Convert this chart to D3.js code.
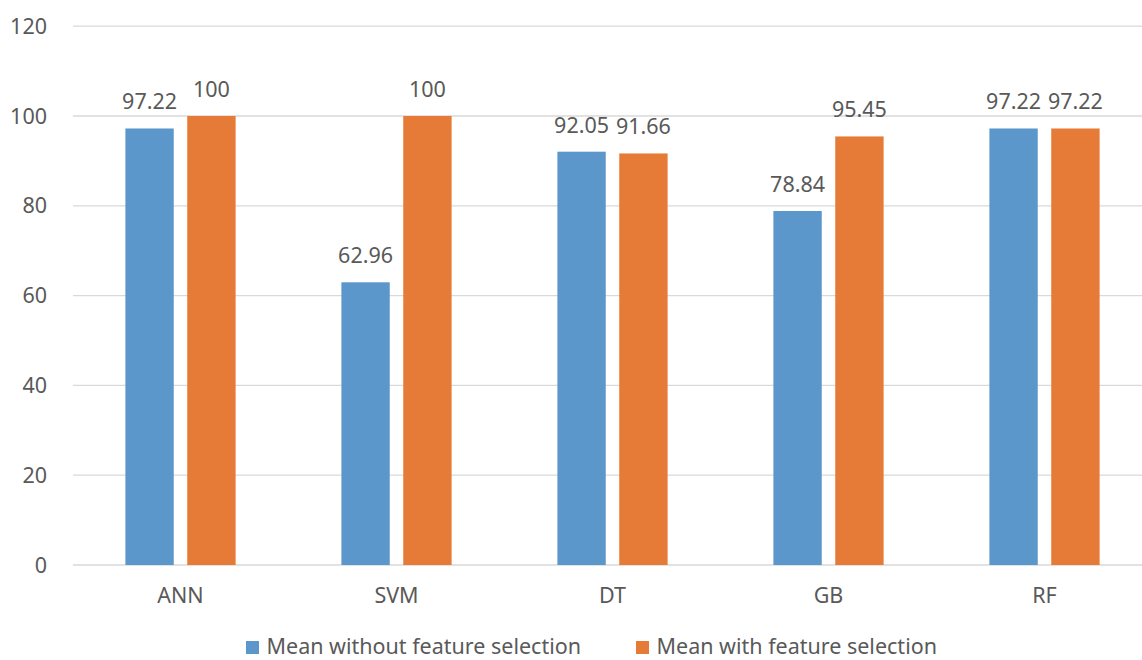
<!DOCTYPE html>
<html>
<head>
<meta charset="utf-8">
<script src="https://cdn.jsdelivr.net/npm/d3@7"></script>
<style>
  html, body { margin: 0; padding: 0; background: #fff; }
  svg { display: block; }
  text { font-family: "Noto Sans", "Open Sans", sans-serif; fill: #595959; }
</style>
</head>
<body>
<svg id="chart" width="1142" height="660"></svg>
<script>
// Model accuracy means, with and without feature selection
const categories = ["ANN", "SVM", "DT", "GB", "RF"];
const seriesNames = ["Mean without feature selection", "Mean with feature selection"];
const withoutFS = [97.22, 62.96, 92.05, 78.84, 97.22];
const withFS = [100, 100, 91.66, 95.45, 97.22];
const yTicks = [0, 20, 40, 60, 80, 100, 120];
const colors = ["#5b97cb", "#e67b37"];

const W = 1142, H = 660;
const svg = d3.select("#chart");
const fontSize = 21.5;

const x0 = d3.scaleBand().domain(categories).range([72.5, 1152.5]).paddingInner(0).paddingOuter(0);
const x1 = d3.scaleBand().domain(seriesNames).range([0, x0.bandwidth()])
  .paddingInner(0.218).paddingOuter(0.855);
const y = d3.scaleLinear().domain([0, 120]).range([565, 26.2]);

// horizontal gridlines
svg.append("g").selectAll("line").data(yTicks).join("line")
  .attr("x1", 73).attr("x2", W)
  .attr("y1", d => y(d)).attr("y2", d => y(d))
  .attr("stroke", "#d9d9d9").attr("stroke-width", 1.3);

// y-axis labels
svg.append("g").selectAll("text").data(yTicks).join("text")
  .attr("x", 47).attr("y", d => y(d) + 7.5)
  .attr("text-anchor", "end")
  .style("font-size", fontSize + "px")
  .text(d => d);

const rows = categories.map((c, i) => ({
  cat: c,
  vals: [
    { s: seriesNames[0], v: withoutFS[i], k: 0 },
    { s: seriesNames[1], v: withFS[i], k: 1 }
  ]
}));

const groups = svg.append("g").selectAll("g").data(rows).join("g")
  .attr("transform", d => `translate(${x0(d.cat)},0)`);

groups.selectAll("rect").data(d => d.vals).join("rect")
  .attr("x", d => x1(d.s))
  .attr("width", x1.bandwidth())
  .attr("y", d => y(d.v))
  .attr("height", d => y(0) - y(d.v))
  .attr("fill", d => colors[d.k]);

groups.selectAll("text.val").data(d => d.vals).join("text")
  .attr("class", "val")
  .attr("x", d => x1(d.s) + x1.bandwidth() / 2)
  .attr("y", d => y(d.v) - 19)
  .attr("text-anchor", "middle")
  .style("font-size", fontSize + "px")
  .text(d => d.v);

// category labels
svg.append("g").selectAll("text").data(categories).join("text")
  .attr("x", d => x0(d) + x0.bandwidth() / 2)
  .attr("y", 603)
  .attr("text-anchor", "middle")
  .style("font-size", fontSize + "px")
  .text(d => d);

// legend
const legendX = [246, 636];
const legend = svg.append("g").selectAll("g").data(seriesNames).join("g")
  .attr("transform", (d, i) => `translate(${legendX[i]},0)`);
legend.append("rect")
  .attr("x", 0).attr("y", 641).attr("width", 13).attr("height", 13)
  .attr("fill", (d, i) => colors[i]);
legend.append("text")
  .attr("x", 20.5).attr("y", 654)
  .style("font-size", fontSize + "px")
  .text(d => d);
</script>
</body>
</html>
